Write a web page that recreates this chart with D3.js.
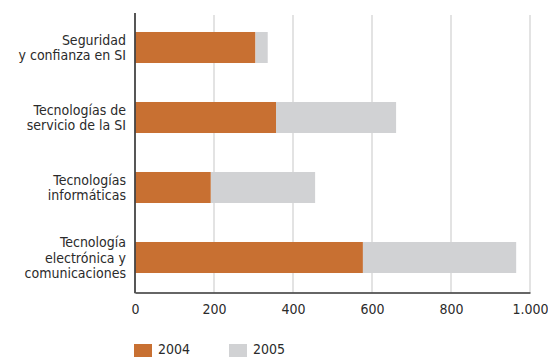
<!DOCTYPE html>
<html>
<head>
<meta charset="utf-8">
<script src="https://cdn.jsdelivr.net/npm/d3@7"></script>
<style>
  html, body { margin: 0; padding: 0; background: #fff; }
  svg { display: block; }
  text { font-family: "DejaVu Sans Condensed", "DejaVu Sans", sans-serif; font-stretch: condensed; fill: #2b2b2b; }
</style>
</head>
<body>
<svg id="chart" width="548" height="357"></svg>
<script>
const categories = [
  ["Seguridad", "y confianza en SI"],
  ["Tecnologías de", "servicio de la SI"],
  ["Tecnologías", "informáticas"],
  ["Tecnología", "electrónica y", "comunicaciones"]
];
const seriesNames = ["2004", "2005"];
const values2004 = [305, 357, 192, 577];
const values2005 = [31, 304, 264, 388];
const tickValues = [0, 200, 400, 600, 800, 1000];
const tickLabels = ["0", "200", "400", "600", "800", "1.000"];
const colors = ["#c87032", "#d1d2d4"];

const svg = d3.select("#chart");
const keys = categories.map(c => c.join(" "));
const rows = keys.map((k, i) => ({ key: k, "2004": values2004[i], "2005": values2005[i] }));

const x = d3.scaleLinear().domain([0, 1000]).range([135, 530]);
const y = d3.scaleBand().domain(keys).range([12.5, 292.5]).paddingInner(0.557).paddingOuter(0.2785);

// gridlines
svg.append("g").selectAll("line")
  .data(tickValues.filter(v => v > 0))
  .join("line")
  .attr("x1", d => x(d)).attr("x2", d => x(d))
  .attr("y1", 15).attr("y2", 292.5)
  .attr("stroke", "#dadada").attr("stroke-width", 1.5);

// bars
const stack = d3.stack().keys(seriesNames)(rows);
svg.append("g").selectAll("g")
  .data(stack)
  .join("g")
  .attr("fill", (d, i) => colors[i])
  .selectAll("rect")
  .data(d => d)
  .join("rect")
  .attr("x", d => x(d[0]))
  .attr("width", d => x(d[1]) - x(d[0]))
  .attr("y", d => y(d.data.key))
  .attr("height", y.bandwidth());

// x axis
const xAxis = d3.axisBottom(x).tickValues(tickValues).tickFormat((d, i) => tickLabels[i]).tickSize(0).tickPadding(12);
const gx = svg.append("g").attr("transform", "translate(0,292.5)").call(xAxis);
gx.select(".domain").attr("stroke", "#333").attr("stroke-width", 1.5);
gx.selectAll("text").attr("font-size", 14).attr("font-family", null).style("fill", "#2b2b2b");

// left axis line
svg.append("line")
  .attr("x1", 135).attr("x2", 135).attr("y1", 13).attr("y2", 293.2)
  .attr("stroke", "#444").attr("stroke-width", 1.8);

// category labels
const lh = 15.6;
const lab = svg.append("g");
categories.forEach((lines, i) => {
  const cy = y(keys[i]) + y.bandwidth() / 2;
  const n = lines.length;
  const t = lab.append("text")
    .attr("text-anchor", "end")
    .attr("font-size", 14)
    .attr("x", 126);
  lines.forEach((ln, j) => {
    t.append("tspan")
      .attr("x", 126)
      .attr("y", cy + (j - (n - 1) / 2) * lh + 5)
      .text(ln);
  });
});

// legend
const legend = svg.append("g");
const legX = [134, 229];
seriesNames.forEach((s, i) => {
  legend.append("rect").attr("x", legX[i]).attr("y", 344).attr("width", 18).attr("height", 13).attr("fill", colors[i]);
  legend.append("text").attr("x", legX[i] + 24).attr("y", 353.5).attr("font-size", 14).text(s);
});
</script>
</body>
</html>
